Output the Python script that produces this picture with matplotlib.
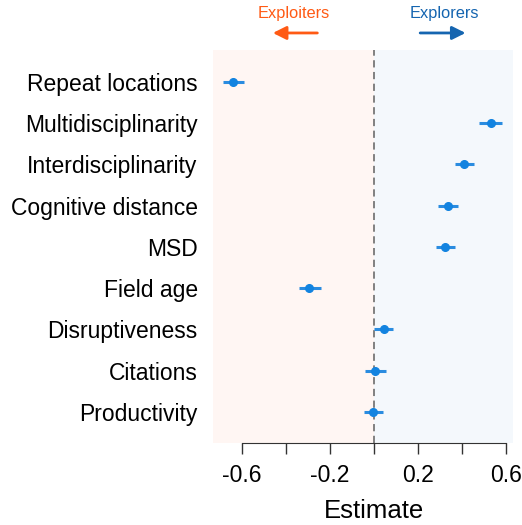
import matplotlib.pyplot as plt

plt.rcParams['font.family'] = ['Liberation Sans', 'DejaVu Sans']

# estimates and confidence intervals, top to bottom
labels = ['Repeat locations', 'Multidisciplinarity', 'Interdisciplinarity',
          'Cognitive distance', 'MSD', 'Field age', 'Disruptiveness',
          'Citations', 'Productivity']
estimate = [-0.642, 0.531, 0.410, 0.336, 0.325, -0.294, 0.044, 0.005, -0.002]
ci_low = [-0.686, 0.480, 0.368, 0.292, 0.283, -0.339, 0.001, -0.041, -0.043]
ci_high = [-0.593, 0.584, 0.454, 0.381, 0.369, -0.243, 0.089, 0.053, 0.042]

xticks = [-0.6, -0.4, -0.2, 0.0, 0.2, 0.4, 0.6]
xtick_labels = ['-0.6', '', '-0.2', '', '0.2', '', '0.6']

fig = plt.figure(figsize=(5.22, 5.25), dpi=100)
ax = fig.add_axes([0.408, 0.156, 0.575, 0.749])

ypos = list(range(len(labels), 0, -1))
xmin, xmax = -0.733, 0.634

# background halves
ax.axvspan(xmin, 0, color='#FFF6F3', zorder=0, lw=0)
ax.axvspan(0, xmax, color='#F4F8FC', zorder=0, lw=0)
ax.axvline(0, color='#777777', ls=(0, (4, 2.5)), lw=1.3, zorder=1)

# error bars + points
err_lo = [e - l for e, l in zip(estimate, ci_low)]
err_hi = [h - e for e, h in zip(estimate, ci_high)]
ax.errorbar(estimate, ypos, xerr=[err_lo, err_hi], fmt='o', color='#1283E0',
            ecolor='#2A8CE0', elinewidth=2.2, markersize=5.5, capsize=0, zorder=3)

ax.set_xlim(xmin, xmax)
ax.set_ylim(0.24, 9.78)
ax.set_yticks(ypos)
ax.set_yticklabels(labels, fontsize=16.5)
ax.tick_params(axis='y', length=0, pad=11)
ax.set_xticks(xticks)
ax.set_xticklabels(xtick_labels, fontsize=16.5)
ax.tick_params(axis='x', length=8, width=1, color='#333333', pad=7)

for s in ['top', 'right', 'left']:
    ax.spines[s].set_visible(False)
ax.spines['bottom'].set_bounds(-0.6, 0.6)
ax.spines['bottom'].set_color('#333333')

ax.set_xlabel('Estimate', fontsize=18.5, labelpad=9)
ax.xaxis.label.set_x((0 - xmin) / (xmax - xmin))

# direction arrows
ax.annotate('', xy=(-0.473, 1.043), xytext=(-0.245, 1.043),
            xycoords=('data', 'axes fraction'), annotation_clip=False,
            arrowprops=dict(arrowstyle='-|>', color='#FF5A14', lw=2, mutation_scale=20))
ax.text(-0.363, 1.092, 'Exploiters', color='#FF5A14', fontsize=11.8,
        ha='center', va='center', transform=ax.get_xaxis_transform())
ax.annotate('', xy=(0.430, 1.043), xytext=(0.198, 1.043),
            xycoords=('data', 'axes fraction'), annotation_clip=False,
            arrowprops=dict(arrowstyle='-|>', color='#1565B0', lw=2, mutation_scale=20))
ax.text(0.320, 1.092, 'Explorers', color='#1565B0', fontsize=11.8,
        ha='center', va='center', transform=ax.get_xaxis_transform())

plt.savefig('out.png', dpi=100)
